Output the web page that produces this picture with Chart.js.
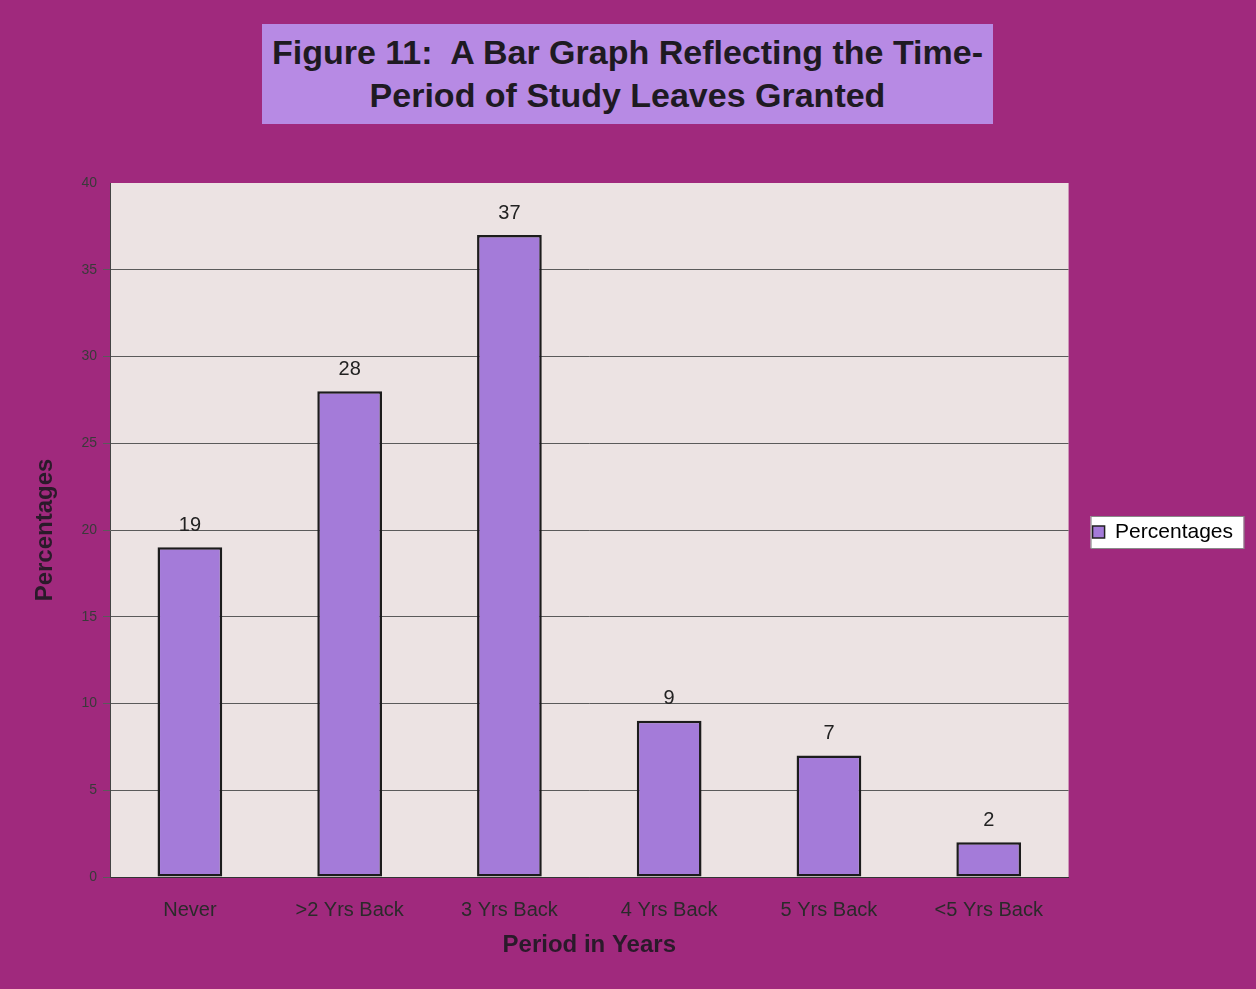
<!DOCTYPE html>
<html>
<head>
<meta charset="utf-8">
<script src="https://cdn.jsdelivr.net/npm/chart.js@4"></script>
<style>
  html, body { margin: 0; padding: 0; }
  body { width: 1256px; height: 989px; background: #a0297d; position: relative; overflow: hidden; font-family: "Liberation Sans", Arial, sans-serif; }
  #title { position: absolute; left: 262px; top: 24px; width: 731px; height: 100px; background: #b78ae4;
    display: flex; align-items: center; justify-content: center; text-align: center;
    font-weight: bold; font-size: 34px; line-height: 43px; color: #1e1a22; white-space: nowrap; }
  #c { position: absolute; left: 0; top: 0; }
</style>
</head>
<body>
<canvas id="c" width="1256" height="989"></canvas>
<div id="title">Figure 11:&nbsp; A Bar Graph Reflecting the Time-<br>Period of Study Leaves Granted</div>
<script>
const categories = ["Never", ">2 Yrs Back", "3 Yrs Back", "4 Yrs Back", "5 Yrs Back", "<5 Yrs Back"];
const percentages = [19, 28, 37, 9, 7, 2];
const seriesLabel = "Percentages";
const yTicksMin = 0, yTicksMax = 40, yTickStep = 5;

const FONT = '"Liberation Sans", Arial, sans-serif';

const legendPlacement = {
  id: 'legendPlacement',
  afterLayout(chart) {
    const lg = chart.legend;
    if (lg) { lg.top = chart.chartArea.top; lg.bottom = chart.chartArea.bottom + 4; }
  }
};

const backgrounds = {
  id: 'backgrounds',
  beforeDraw(chart) {
    const ctx = chart.ctx, a = chart.chartArea;
    ctx.save();
    ctx.fillStyle = '#ece3e3';
    ctx.fillRect(a.left, a.top, a.right - a.left, a.bottom - a.top);
    const lg = chart.legend;
    if (lg) {
      const pad = lg.options.labels.padding;
      const itemH = lg.legendHitBoxes[0].height;
      const colH = lg.columnSizes[0].height;
      const top = ((lg.top + pad) + (lg.bottom - colH)) / 2;
      const cy = top + itemH / 2;
      const x = lg.left + pad - 2, y = cy - 16;
      ctx.fillStyle = '#ffffff';
      ctx.fillRect(x, y, 153, 32);
      ctx.strokeStyle = '#8a8a8a';
      ctx.lineWidth = 1;
      ctx.strokeRect(x + 0.5, y + 0.5, 153, 32);
    }
    ctx.restore();
  }
};

const valueLabels = {
  id: 'valueLabels',
  afterDatasetsDraw(chart) {
    const ctx = chart.ctx;
    const meta = chart.getDatasetMeta(0);
    ctx.save();
    ctx.font = '20px ' + FONT;
    ctx.fillStyle = '#222222';
    ctx.textAlign = 'center';
    ctx.textBaseline = 'middle';
    meta.data.forEach((bar, i) => {
      ctx.fillText(String(chart.data.datasets[0].data[i]), bar.x, bar.y - 22);
    });
    ctx.restore();
  }
};

new Chart(document.getElementById('c'), {
  type: 'bar',
  data: {
    labels: categories,
    datasets: [{
      label: seriesLabel,
      data: percentages,
      backgroundColor: '#a47bd9',
      borderColor: '#1c1c1c',
      borderWidth: 2.5,
      borderSkipped: false,
      barPercentage: 0.405,
      categoryPercentage: 1.0
    }]
  },
  options: {
    responsive: false,
    animation: false,
    layout: { padding: { top: 183, right: 13, bottom: 0, left: 0 } },
    plugins: {
      title: { display: false },
      tooltip: { enabled: false },
      legend: {
        display: true,
        position: 'right',
        labels: {
          boxWidth: 12, boxHeight: 12, padding: 24,
          color: '#222222',
          font: { family: FONT, size: 21 },
          generateLabels(chart) {
            const ds = chart.data.datasets[0];
            return [{ text: ds.label, fillStyle: ds.backgroundColor, strokeStyle: '#222', lineWidth: 1.5, datasetIndex: 0 }];
          }
        }
      }
    },
    scales: {
      x: {
        grid: { display: false },
        border: { display: true, color: '#333333', width: 1 },
        ticks: { color: '#2a2a2a', font: { family: FONT, size: 20 }, padding: 13, maxRotation: 0, autoSkip: false },
        title: { display: true, text: 'Period in Years', color: '#2a1a2a', font: { family: FONT, size: 24, weight: 'bold' }, padding: { top: 0, bottom: 29 } },
        afterFit(s) { s.height = 112; }
      },
      y: {
        min: yTicksMin, max: yTicksMax,
        ticks: { stepSize: yTickStep, color: '#3a3a3a', font: { family: FONT, size: 14 }, padding: 6 },
        grid: {
          color: (c) => (c.tick && c.tick.value === yTicksMax) ? 'rgba(0,0,0,0)' : '#5a5a5a',
          lineWidth: 1, tickLength: 7, drawTicks: true
        },
        border: { display: true, color: '#444444', width: 1 },
        title: { display: true, text: 'Percentages', color: '#2a1a2a', font: { family: FONT, size: 24, weight: 'bold' }, padding: { top: 31, bottom: 0 } },
        afterFit(s) { s.width = 110; }
      }
    }
  },
  plugins: [legendPlacement, backgrounds, valueLabels]
});
</script>
</body>
</html>
